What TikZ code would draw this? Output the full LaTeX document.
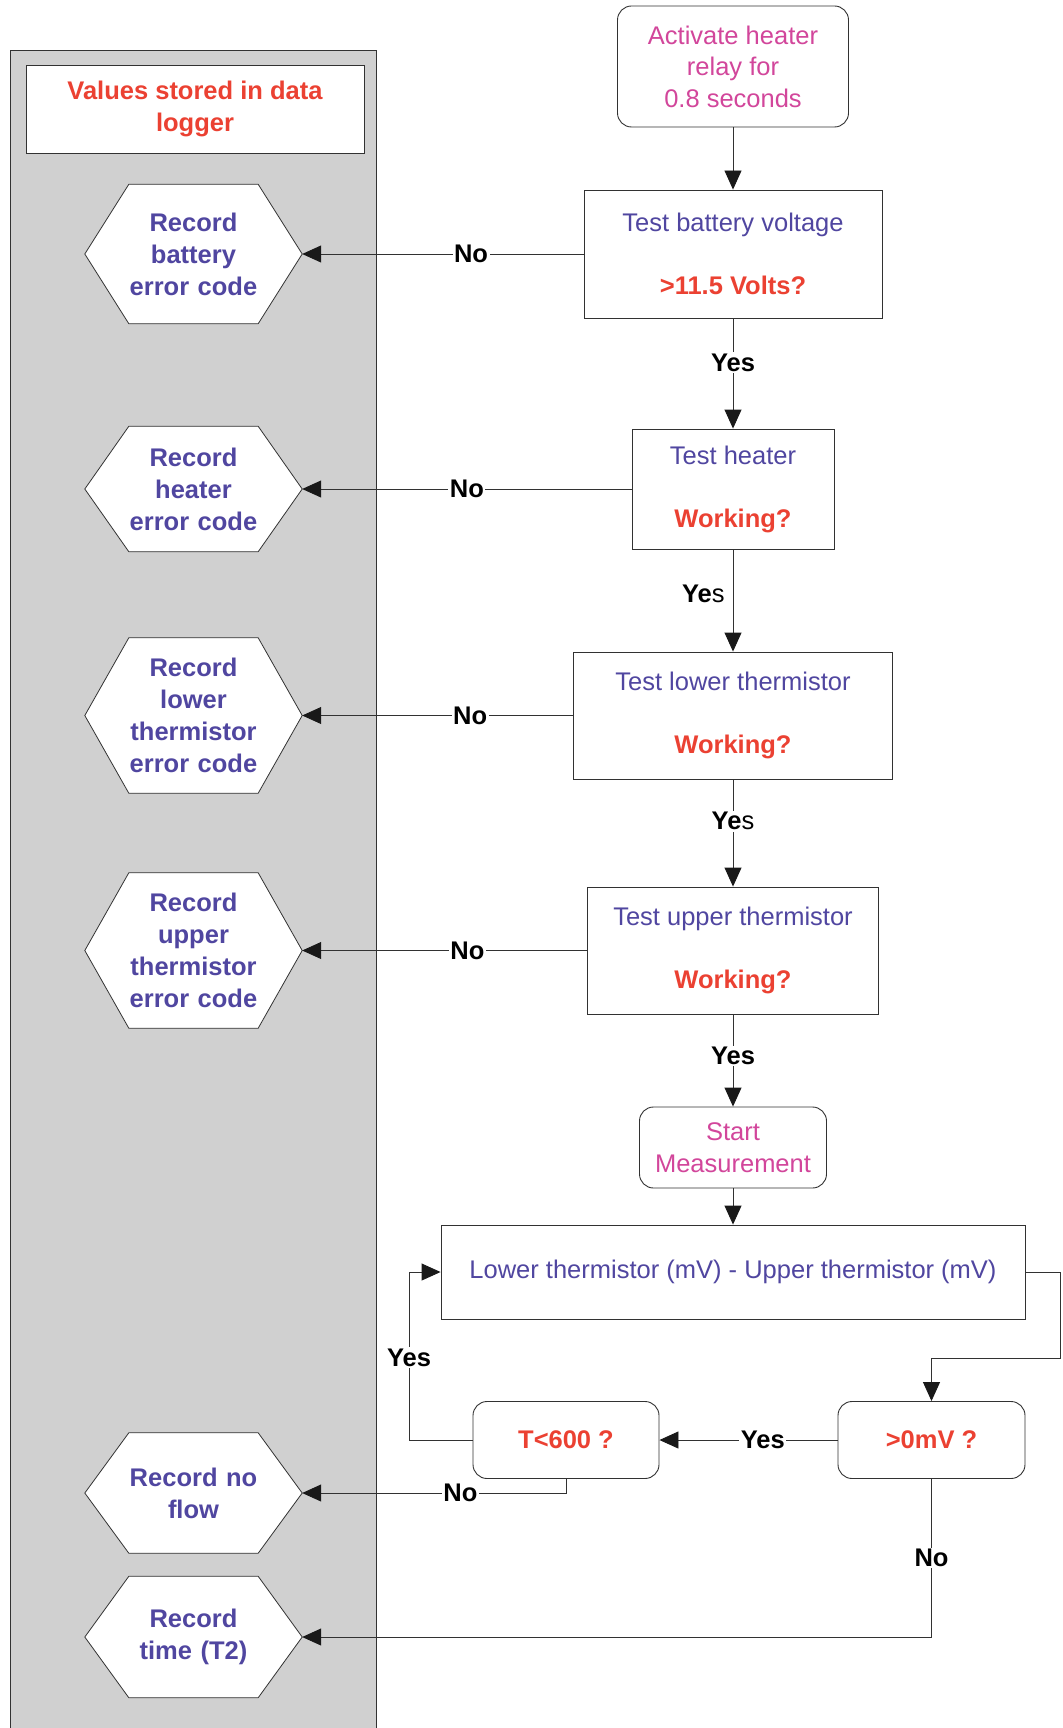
\documentclass[tikz,border=0pt]{standalone}
\usepackage{fontspec}
\setmainfont{Liberation Sans}
\usetikzlibrary{arrows.meta,calc}
\definecolor{tblue}{RGB}{80,70,160}
\definecolor{tred}{RGB}{235,65,50}
\definecolor{tpink}{RGB}{210,70,155}
\definecolor{lgray}{RGB}{50,50,50}
\definecolor{panelgray}{RGB}{208,208,208}
\tikzset{
 every node/.style={font=\fontsize{25.5pt}{31.5pt}\selectfont},
 box/.style={draw=lgray, line width=0.9pt, fill=white, inner sep=0pt, align=center, text=tblue},
 rbox/.style={box, rounded corners=14pt},
 hexframe/.style={inner sep=0pt, minimum width=129pt},
 hextext/.style={inner sep=0pt, text width=129pt, align=center, text=tblue, font=\fontsize{25.5pt}{32pt}\selectfont\bfseries},
 hexline/.style={draw=lgray, line width=0.8pt, fill=white},
 conn/.style={draw=lgray, line width=0.9pt},
 arr/.style={conn, -{Triangle[length=19pt,width=17pt,color=black!90]}},
 lbl/.style={fill=white, inner sep=1.5pt, text=black, font=\fontsize{25.5pt}{31.5pt}\selectfont\bfseries},
 lblside/.style={inner sep=0pt, anchor=east, xshift=-8pt, text=black, font=\fontsize{25.5pt}{31.5pt}\selectfont\bfseries},
}
\newcommand\hexnode[5]{%
 \node[hexframe, minimum height=#4] (#1) at (#2,#3) {};
 \path[hexline] (#1.north west) -- (#1.north east) -- ([xshift=44pt]#1.east) coordinate (#1-r) -- (#1.south east) -- (#1.south west) -- ([xshift=-44pt]#1.west) -- cycle;
 \node[hextext] (#1-t) at (#1) {#5};
}
\begin{document}
\begin{tikzpicture}[x=1pt,y=-1pt]
\useasboundingbox (0,0) rectangle (1062,1728);
% panel
\fill[panelgray] (10,50) rectangle (376,1728);
\draw[lgray, line width=0.9pt] (10,1728) -- (10,50) -- (376,50) -- (376,1728);
\node[box, minimum width=338pt, minimum height=88pt, text=tred, font=\fontsize{25.5pt}{32pt}\selectfont\bfseries] (title) at (195,109) {Values stored in data\\logger};
% hexagons
\hexnode{h1}{193.5}{254}{139pt}{Record\\battery\\error code}
\hexnode{h2}{193.5}{489}{125pt}{Record\\heater\\error code}
\hexnode{h3}{193.5}{715.5}{155pt}{Record\\lower\\thermistor\\error code}
\hexnode{h4}{193.5}{950.5}{155pt}{Record\\upper\\thermistor\\error code}
\hexnode{h5}{193.5}{1493}{120pt}{Record no\\flow}
\hexnode{h6}{193.5}{1637}{121pt}{Record\\time (T2)}
% right column
\node[rbox, minimum width=231pt, minimum height=121pt, text=tpink] (act) at (733,66.5) {Activate heater\\relay for\\0.8 seconds};
\node[box, minimum width=298pt, minimum height=128pt] (bat) at (733,254) {Test battery voltage\\[31.5pt]\textcolor{tred}{\bfseries >11.5 Volts?}};
\node[box, minimum width=202pt, minimum height=120pt] (heat) at (733,489) {Test heater\\[31.5pt]\textcolor{tred}{\bfseries Working?}};
\node[box, minimum width=319pt, minimum height=127pt] (lowt) at (733,715.5) {Test lower thermistor\\[31.5pt]\textcolor{tred}{\bfseries Working?}};
\node[box, minimum width=291pt, minimum height=127pt] (upt) at (733,950.5) {Test upper thermistor\\[31.5pt]\textcolor{tred}{\bfseries Working?}};
\node[rbox, minimum width=187pt, minimum height=81pt, text=tpink] (start) at (733,1147.5) {Start\\Measurement};
\node[box, minimum width=584pt, minimum height=94pt] (diff) at (733,1272) {Lower thermistor (mV) - Upper thermistor (mV)};
\node[rbox, minimum width=187pt, minimum height=77pt, text=tred, font=\fontsize{25.5pt}{31.5pt}\selectfont\bfseries] (pos) at (931.5,1440) {>0mV ?};
\node[rbox, minimum width=186pt, minimum height=77pt, text=tred, font=\fontsize{25.5pt}{31.5pt}\selectfont\bfseries] (tlim) at (566,1440) {T<600 ?};
% connectors
\draw[arr] (act.south) -- (bat.north);
\draw[arr] (bat.south) -- node[lbl,pos=0.4]{Yes} (heat.north);
\draw[arr] (heat.south) -- node[lblside,pos=0.43]{Ye{\mdseries s}} (lowt.north);
\draw[arr] (lowt.south) -- node[lbl,pos=0.39]{Ye{\mdseries s}} (upt.north);
\draw[arr] (upt.south) -- node[lbl,pos=0.45]{Yes} (start.north);
\draw[arr] (start.south) -- (diff.north);
\draw[arr] (bat.west) -- node[lbl,pos=0.4]{No} (h1-r);
\draw[arr] (heat.west) -- node[lbl,pos=0.5]{No} (h2-r);
\draw[arr] (lowt.west) -- node[lbl,pos=0.38]{No} (h3-r);
\draw[arr] (upt.west) -- node[lbl,pos=0.42]{No} (h4-r);
\coordinate (c1) at (1060,1358);
\draw[arr] (diff.east) -| (c1) -| (pos.north);
\draw[arr] (pos.west) -- node[lbl,pos=0.42]{Yes} (tlim.east);
\coordinate (c2) at (409,1272);
\draw[arr] (tlim.west) -| node[lbl,pos=0.745]{Yes} (c2) -- (diff.west);
\draw[arr] (tlim.south) |- node[lbl,pos=0.70]{No} (h5-r);
\draw[arr] (pos.south) |- node[lbl,pos=0.25]{No} (h6-r);
\end{tikzpicture}
\end{document}
